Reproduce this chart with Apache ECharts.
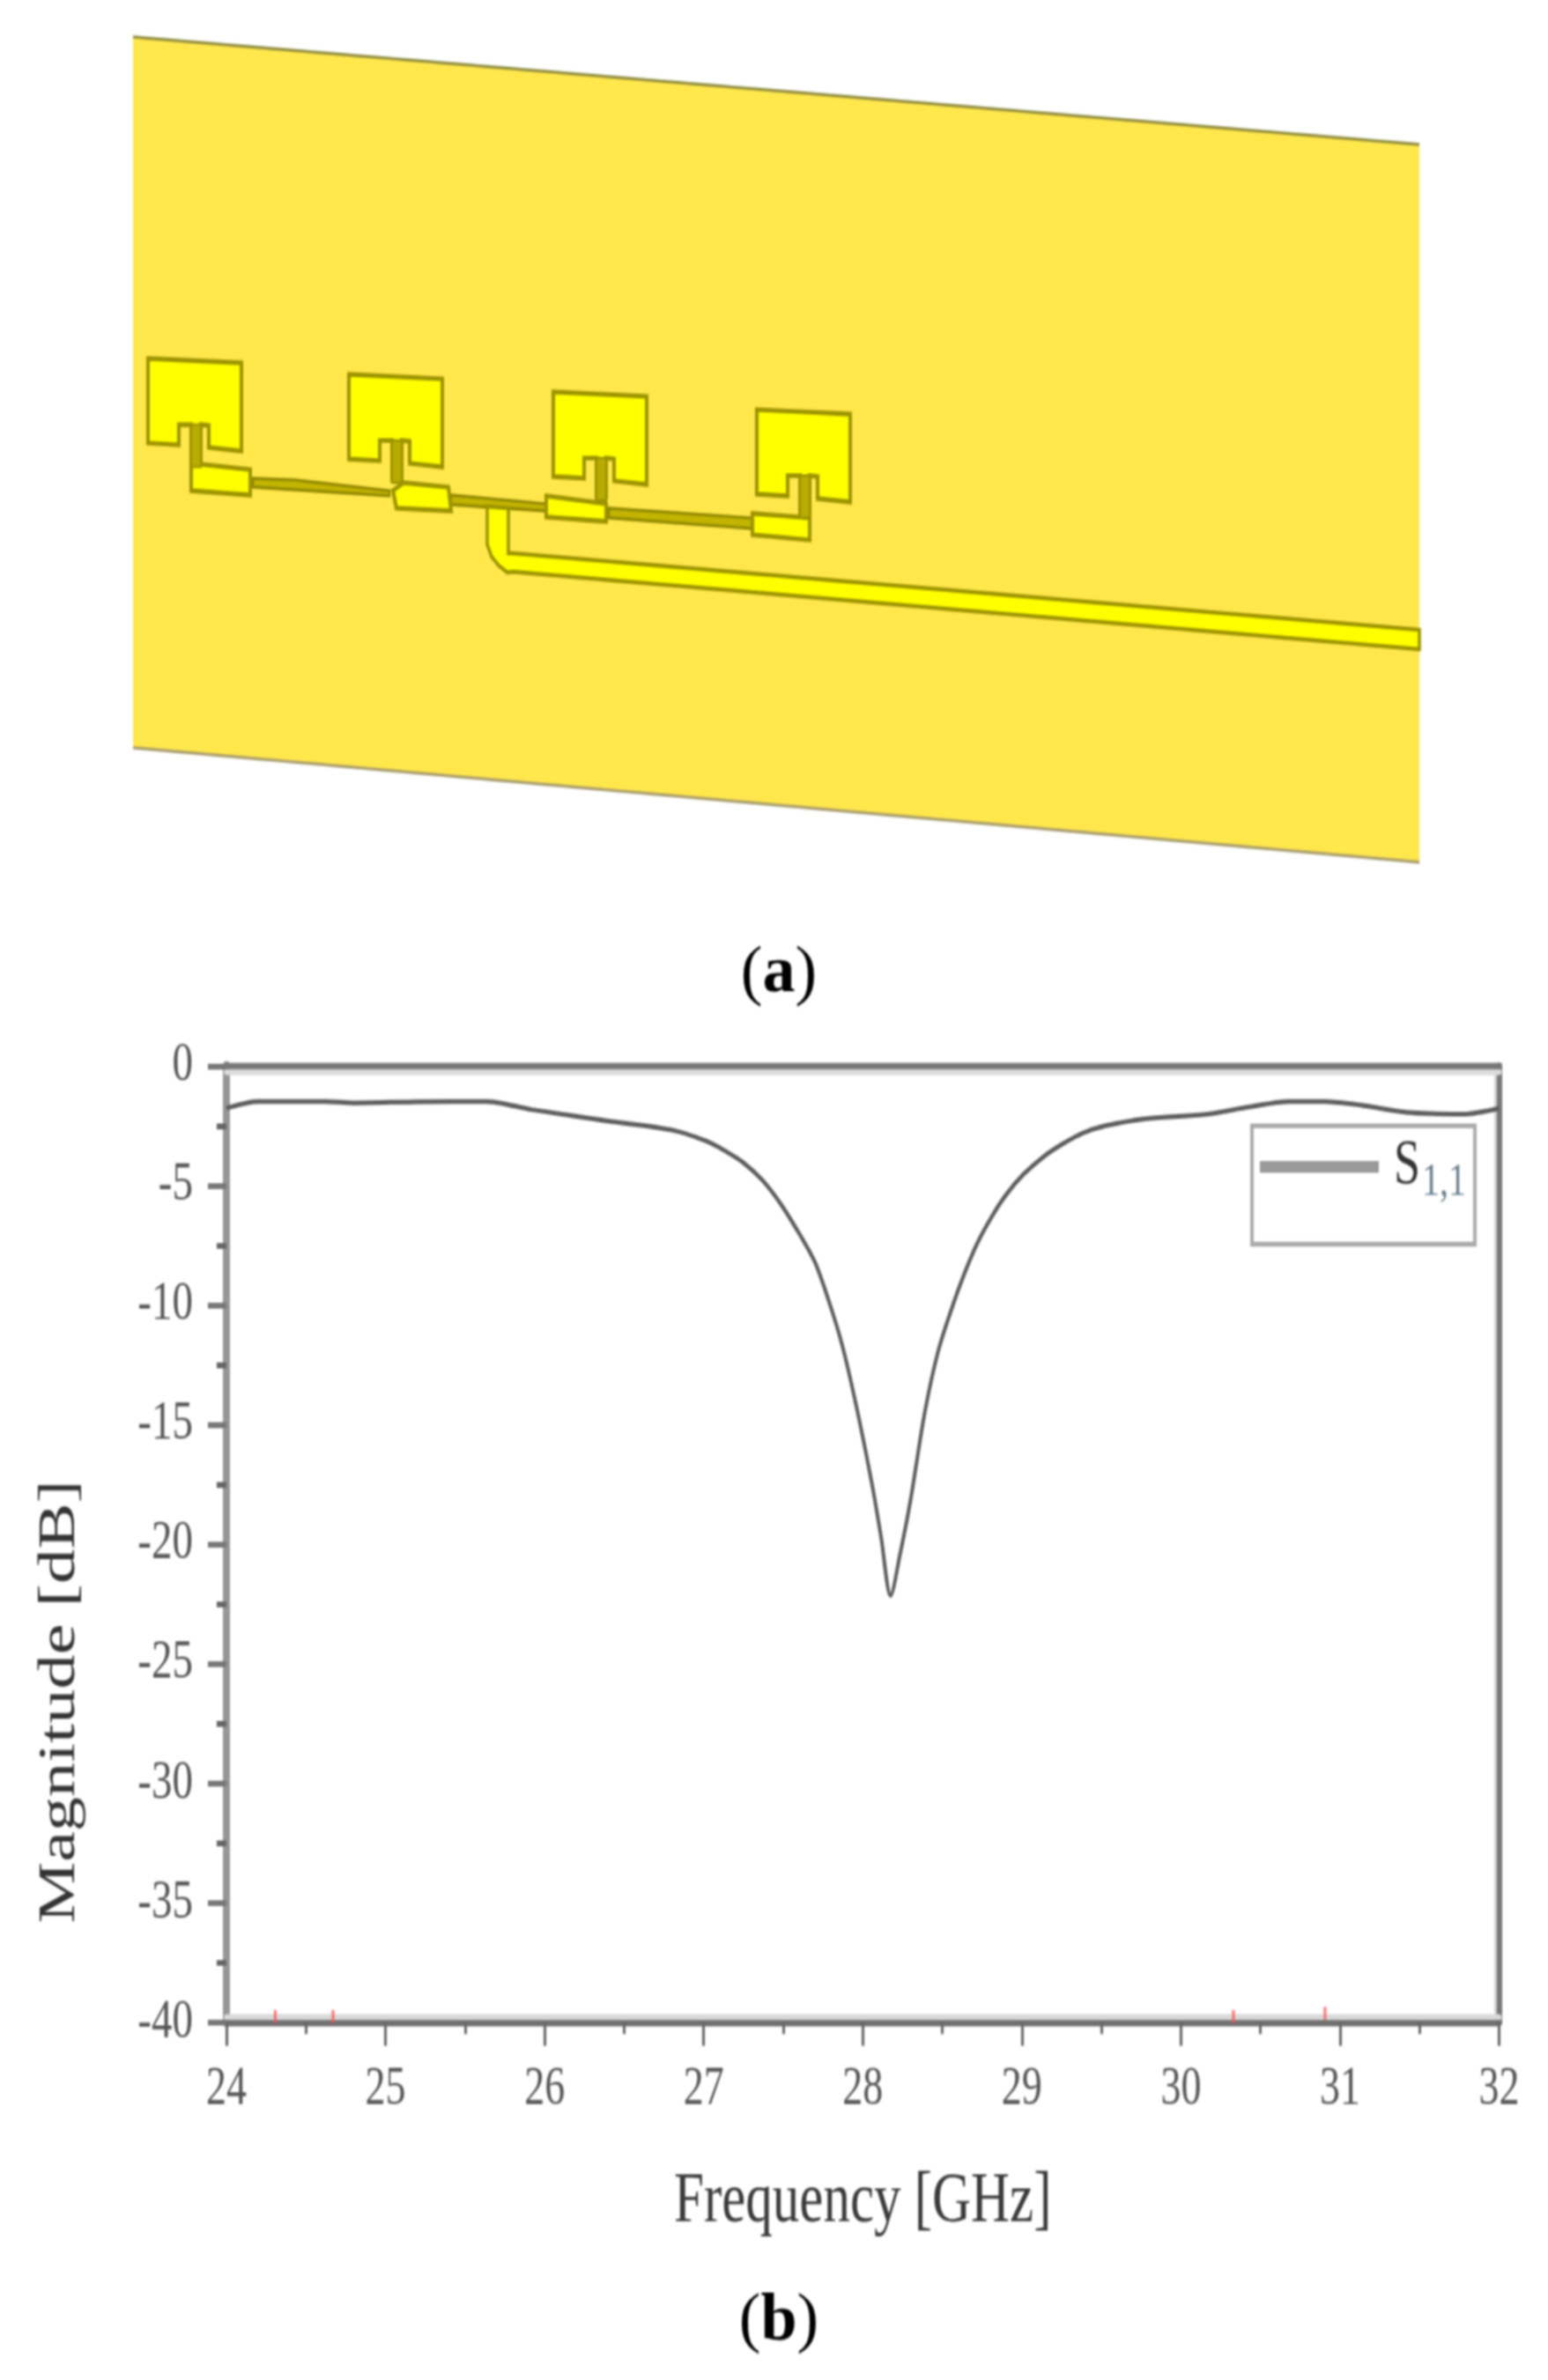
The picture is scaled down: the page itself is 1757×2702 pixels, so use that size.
<!DOCTYPE html>
<html><head><meta charset="utf-8">
<style>html,body{margin:0;padding:0;background:#fff;overflow:hidden}
#wrap{width:1757px;height:2702px;overflow:hidden}
#c{width:1757px;transform-origin:0 0;filter:blur(0.8px)}</style>
<script src="https://cdn.jsdelivr.net/npm/echarts@6/dist/echarts.min.js"></script>
</head><body><div id="wrap"><div id="c"></div></div>
<script>
// ---- chart data ----
const frequencyGHz = [24,24.2,24.62,24.8,25.2,25.63,25.92,26.39,26.81,27.01,27.12,27.25,27.37,27.49,27.61,27.7,27.78,27.87,27.96,28.06,28.115,28.175,28.235,28.3,28.39,28.475,28.57,28.63,28.715,28.81,28.9,29.01,29.14,29.26,29.38,29.53,29.78,30.17,30.42,30.68,30.9,31.13,31.42,31.77,32];
const s11dB = [-1.77,-1.49,-1.49,-1.55,-1.5,-1.49,-1.83,-2.3,-2.7,-3.13,-3.5,-4.05,-4.79,-5.83,-7.12,-8.22,-9.7,-11.66,-14.24,-17.56,-19.7,-22.15,-20.4,-18.17,-14.49,-11.91,-9.94,-8.84,-7.49,-6.32,-5.4,-4.54,-3.78,-3.25,-2.82,-2.5,-2.21,-2.02,-1.73,-1.49,-1.49,-1.64,-1.95,-2.02,-1.77];
const redMarkFreq = [24.307,24.67,30.33,30.906];
const redMarkLevel = [-39.75,-39.75,-39.75,-39.62];
const xTickLabels = ['24','25','26','27','28','29','30','31','32'];
const yTickLabels = ['0','-5','-10','-15','-20','-25','-30','-35','-40'];

// The reference is a vertically stretched raster: draw at a compressed height, stretch with CSS.
const S = 1.33;
const el = document.getElementById('c');
el.style.height = (2702/S)+'px';
el.style.transform = 'scaleY('+S+')';
const Y = v => v/S;
const serif = '"Liberation Serif","Times New Roman",serif';

// ---- antenna drawing (panel a) ----
const pts = (a,dx=0,dy=0) => a.map(p=>[p[0]+dx,Y(p[1]+dy)]);
const poly = (a,fill,stroke,w,z=2) => ({type:'polygon',z,silent:true,shape:{points:a},style:{fill,stroke,lineWidth:w}});
const line = (a,stroke,w,z=3) => ({type:'polyline',z,silent:true,shape:{points:a},style:{fill:null,stroke,lineWidth:w}});
const board = [[151,42],[1611,164],[1611,979],[151,849]];
const patch = [[168,407],[274,412],[274,512],[237,508],[237,483],[228,482],[228,527],[217,527],[217,482],[203,482],[203,505],[168,503]];
const patchOffsets = [[0,0],[228,18],[460,38],[691,58]];
const OUT='#9c9300', FILL='#ffff00', BOARD='#ffe74c';
const pads = [
 [[217,527],[228,527],[284,533],[284,562],[217,557]],
 [[446,557],[458,548],[509,553],[512,580],[450,577]],
 [[620,563],[688,572],[688,592],[620,587]],
 [[854,583],[919,588],[919,613],[854,607]]
];
const feeds = [
 [[287,543],[336,545],[442,557],[442,563],[287,553]],
 [[512,562],[620,572],[620,580],[512,573]],
 [[691,577],[854,588],[854,600],[691,588]]
];
const mainFeed = [[553,575],[577,577],[577,628],[582,628],[1611,715],[1611,737],[582,649],[576,650],[566,642],[558,632],[553,618]];
const g = [];
g.push(poly(pts(board),BOARD,null,0,1));
g.push(line(pts([board[0],board[1]]),'#8d8a3c',2.5));
g.push(line(pts([board[3],board[2]]),'#a69a6a',2.5));
patchOffsets.forEach((o,i)=>{
  g.push(poly(pts(patch,o[0],o[1]),FILL,OUT,4));
});
feeds.forEach(a=>g.push(poly(pts(a),'#c2b400','#8f8600',2.5)));
pads.forEach(a=>g.push(poly(pts(a),FILL,OUT,4,3)));
patchOffsets.forEach(o=>g.push(poly(pts([[217,482],[228,482],[228,530],[217,530]],o[0],o[1]),'#b9ac00',OUT,2,4)));
g.push(poly(pts(mainFeed),FILL,OUT,3.5,3));
const caption = (t,cy) => ({type:'text',z:5,silent:true,x:884,y:Y(cy),scaleY:0.78,style:{
  text:'{r|(}{b|'+t+'}{r|)}',align:'center',verticalAlign:'middle',
  rich:{r:{fontFamily:serif,fontSize:74,fill:'#000'},b:{fontFamily:serif,fontSize:74,fontWeight:'bold',fill:'#000'}}}});
g.push(caption('a',1106),caption('b',2636));

// ---- chart (panel b) ----
const LEFT=257,RIGHT=1701.5,TOP=1210,BOTTOM=2296;
const labelCol='#555';
const chart = echarts.init(el,null,{renderer:'canvas'});
chart.setOption({
  animation:false,
  backgroundColor:'#fff',
  graphic:g,
  grid:{left:LEFT,width:RIGHT-LEFT,top:Y(TOP),height:Y(BOTTOM-TOP),containLabel:false},
  legend:{
    data:['S1,1'],left:1421,top:Y(1278),orient:'vertical',
    itemWidth:135,itemHeight:10,itemGap:0,padding:[8,10,32,9],
    borderColor:'#aaaaaa',borderWidth:4,backgroundColor:'#fff',
    icon:'rect',selectedMode:false,
    formatter:()=>'{s|S}{sub|1,1}',
    textStyle:{rich:{
      s:{fontFamily:serif,fontSize:54,color:'#333',lineHeight:60,padding:[0,0,0,12]},
      sub:{fontFamily:serif,fontSize:40,color:'#6a7f8c',padding:[28,0,0,2]}
    }}
  },
  xAxis:[{
    type:'value',min:24,max:32,interval:1,position:'bottom',
    axisLine:{show:true,onZero:false,lineStyle:{color:'#6f6f6f',width:5.5,shadowColor:'#d9d9d9',shadowOffsetY:-5,shadowBlur:0}},
    axisTick:{show:true,length:20,lineStyle:{color:'#666',width:3}},
    minorTick:{show:true,splitNumber:2,length:10,lineStyle:{color:'#666',width:3}},
    splitLine:{show:false},
    axisLabel:{margin:35,fontFamily:serif,fontSize:46,color:labelCol,formatter:v=>xTickLabels[v-24],hideOverlap:false},
    name:'Frequency [GHz]',nameLocation:'middle',nameGap:123,
    nameTextStyle:{fontFamily:serif,fontSize:61,color:'#3a3a3a'}
  },{
    type:'value',min:24,max:32,interval:1,position:'top',
    axisLine:{show:true,onZero:false,lineStyle:{color:'#777',width:5.5,shadowColor:'#dcdcdc',shadowOffsetY:5,shadowBlur:0}},
    axisTick:{show:false},axisLabel:{show:false},splitLine:{show:false}
  }],
  yAxis:[{
    type:'value',min:-40,max:0,interval:5,position:'left',
    axisLine:{show:true,onZero:false,lineStyle:{color:'#969696',width:8}},
    axisTick:{show:true,length:21,lineStyle:{color:'#777',width:5}},
    minorTick:{show:true,splitNumber:2,length:11,lineStyle:{color:'#666',width:5}},
    splitLine:{show:false},
    axisLabel:{margin:38,fontFamily:serif,fontSize:47,color:labelCol,formatter:v=>yTickLabels[-v/5]},
    name:'Magnitude [dB]',nameLocation:'middle',nameGap:159,nameRotate:90,
    nameTextStyle:{fontFamily:serif,fontSize:59,color:'#333',padding:[0,269,0,0]}
  },{
    type:'value',min:-40,max:0,interval:5,position:'right',
    axisLine:{show:true,onZero:false,lineStyle:{color:'#777',width:6,shadowColor:'#cfcfcf',shadowOffsetX:-3,shadowBlur:0}},
    axisTick:{show:false},axisLabel:{show:false},splitLine:{show:false}
  }],
  series:[{
    name:'S1,1',type:'line',smooth:0.3,showSymbol:false,symbol:'none',
    xAxisIndex:0,yAxisIndex:0,z:3,
    lineStyle:{color:'#5c5c5c',width:4},itemStyle:{color:'#999'},
    data:frequencyGHz.map((f,i)=>[f,s11dB[i]])
  },{
    name:'marks',type:'scatter',symbol:'rect',symbolSize:[3,11],xAxisIndex:0,yAxisIndex:0,z:4,silent:true,
    itemStyle:{color:'#ff5050'},
    data:redMarkFreq.map((f,i)=>[f,redMarkLevel[i]])
  }]
});
</script></body></html>
